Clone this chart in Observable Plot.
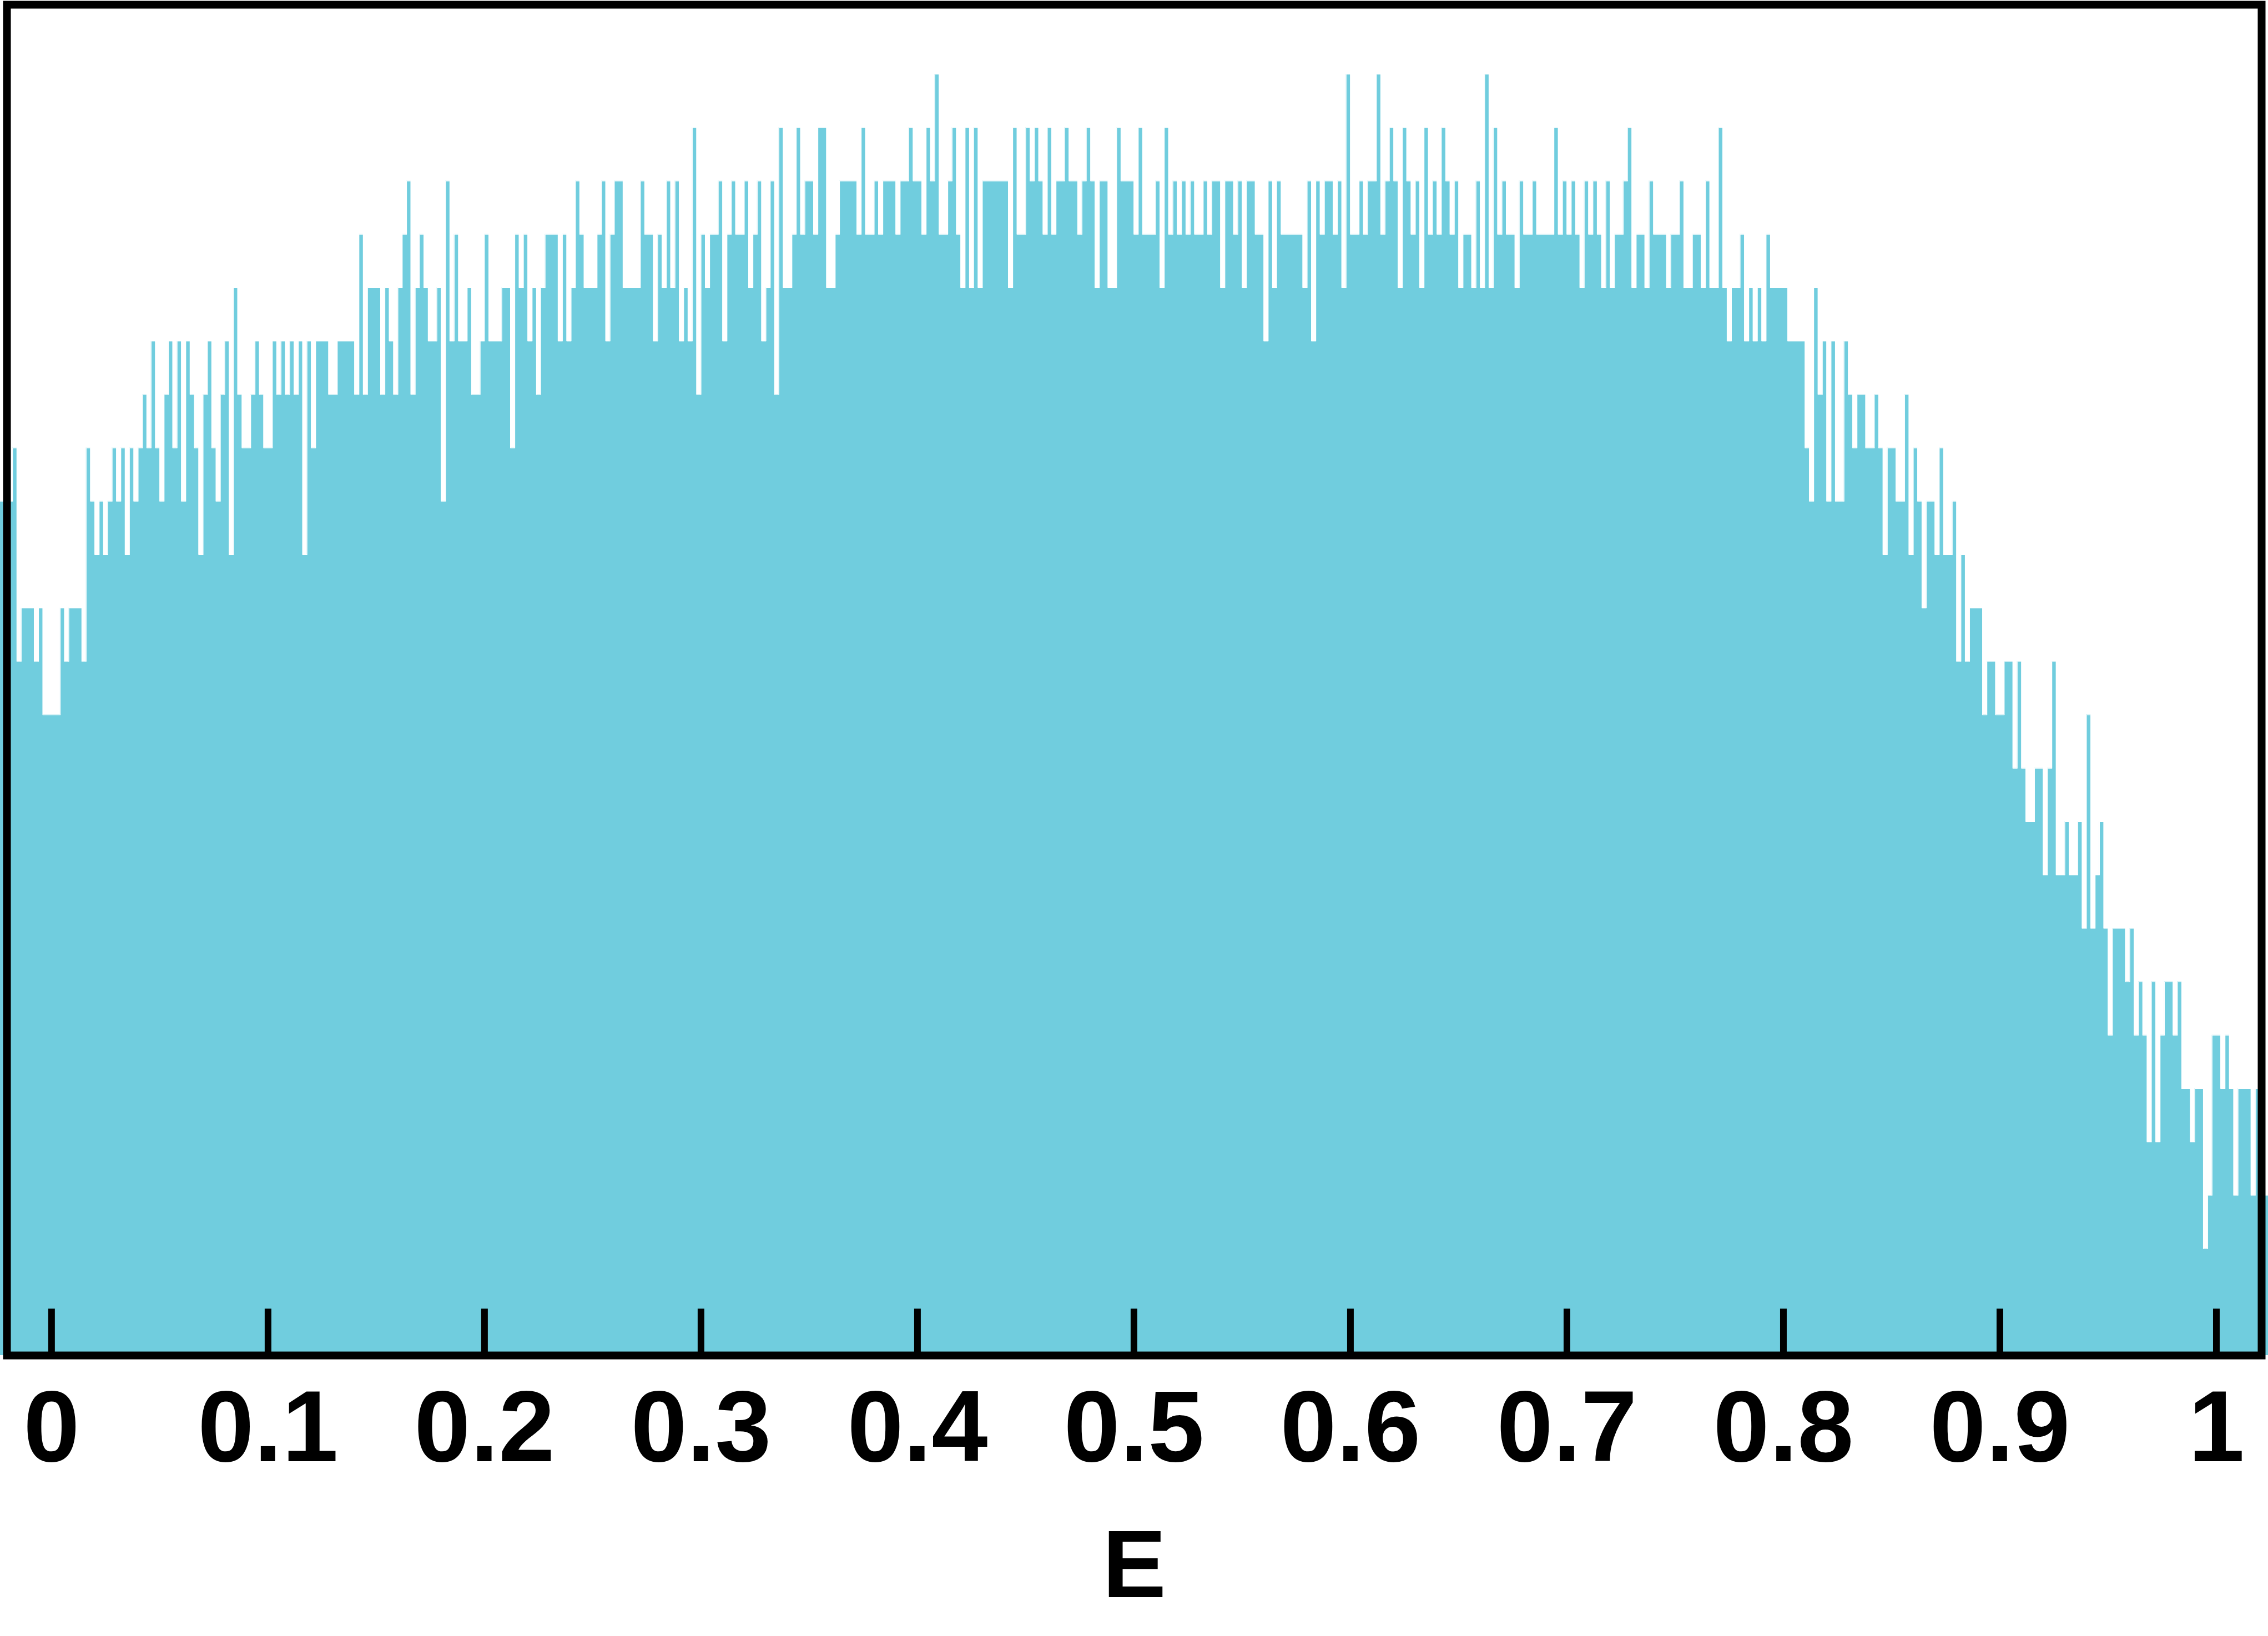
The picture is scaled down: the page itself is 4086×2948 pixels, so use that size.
<!DOCTYPE html>
<html><head><meta charset="utf-8">
<script src="https://cdn.jsdelivr.net/npm/d3@7"></script>
<script src="https://cdn.jsdelivr.net/npm/@observablehq/plot@0.6"></script>
<style>html,body{margin:0;padding:0;background:#fff} svg{display:block}</style>
</head><body><div id="chart"></div>
<script>
// Histogram bins: first bin left edge and bin width (data units of E)
const binStart = -0.024;
const binWidth = 0.002;
// Counts per bin, left to right
const counts = [
16,16,16,
17,13,14,14,14,13,14,12,12,12,12,14,13,14,14,14,13,17,16,15,16,15,16,17,16,17,15,17,16,17,18,17,19,17,16,18,19,17,19,16,19,18,17,
15,18,19,17,16,18,19,15,20,18,17,17,18,19,18,17,17,19,18,19,18,19,18,19,15,19,17,19,19,19,18,18,19,19,19,19,18,21,18,20,20,20,18,20,19,
18,20,21,22,18,20,21,20,19,19,20,16,22,19,21,19,19,20,18,18,19,21,19,19,19,20,20,17,21,20,21,19,20,18,20,21,21,21,19,21,19,20,22,21,20,20,20,
21,22,19,21,22,22,20,20,20,20,22,21,21,19,21,20,22,20,22,19,20,19,23,18,21,20,21,21,22,19,21,22,21,21,22,20,21,22,19,20,22,18,23,
20,20,21,23,21,22,22,21,23,23,20,20,21,22,22,22,22,21,23,21,21,22,21,22,22,22,21,22,22,23,22,22,21,23,22,24,21,21,22,23,21,20,23,20,23,
20,22,22,22,22,22,22,20,23,21,21,23,22,23,22,21,23,21,22,22,23,22,22,21,22,23,22,20,22,22,20,20,23,22,22,22,21,23,21,21,21,22,20,23,21,
22,21,22,21,22,21,21,22,21,22,22,20,22,22,21,22,20,22,22,21,21,19,22,20,22,21,21,21,21,21,20,22,19,22,21,22,22,21,22,20,24,21,21,22,21,
22,22,24,21,22,23,22,20,23,22,21,22,20,23,21,22,21,23,22,21,22,20,21,21,20,22,20,24,20,23,21,22,21,21,20,22,21,21,22,21,21,21,21,23,21,
22,21,22,21,20,22,21,22,21,20,22,20,21,21,22,23,20,21,21,20,22,21,21,21,20,21,21,22,20,20,21,21,20,22,20,20,23,20,19,20,20,21,19,20,
19,20,19,21,20,20,20,20,19,19,19,19,17,16,20,18,19,16,19,16,16,19,18,17,18,18,17,17,18,17,15,17,17,16,16,18,15,17,16,14,16,16,15,17,15,
15,16,13,15,13,14,14,14,12,13,13,12,12,13,13,11,13,11,10,10,11,11,9,11,13,9,9,10,9,9,10,8,12,8,9,10,8,6,
8,8,8,7,8,6,7,6,4,7,4,6,7,7,6,7,5,5,4,5,5,2,3,6,6,5,6,5,3,5,5,5,3,5,
4,3
];
const xTicks = [0, 0.1, 0.2, 0.3, 0.4, 0.5, 0.6, 0.7, 0.8, 0.9, 1];
const xTickLabels = ["0", "0.1", "0.2", "0.3", "0.4", "0.5", "0.6", "0.7", "0.8", "0.9", "1"];
const xLabel = "E";

const bins = counts.map((c, i) => ({x1: binStart + i * binWidth, x2: binStart + (i + 1) * binWidth, count: c}));
const last = bins[bins.length - 1];
const steps = bins.map(b => ({x: b.x1, y: b.count})).concat([{x: last.x2, y: last.count}]);

const chart = Plot.plot({
  width: 4086,
  height: 2948,
  marginLeft: 12,
  marginRight: 12,
  marginTop: 8,
  marginBottom: 506,
  style: {fontFamily: "'Liberation Sans', Arial, Helvetica, sans-serif", background: "#fff"},
  x: {domain: [-0.0206, 1.0209]},
  y: {domain: [0, 25.3], axis: null},
  marks: [
    Plot.areaY(steps, {x: "x", y: "y", curve: "step-after", fill: "#70cdde"}),
    Plot.lineY(steps, {x: "x", y: "y", curve: "step-after", stroke: "#ffffff", strokeWidth: 1.3}),
    Plot.frame({stroke: "#000", strokeWidth: 14}),
    Plot.axisX(xTicks, {tickSize: -84, strokeWidth: 12, stroke: "#000", tickFormat: () => "", label: null}),
    Plot.axisX(xTicks, {tickSize: 0, tickPadding: 61, fontSize: 182, fontWeight: "bold", fill: "#000",
      tickFormat: d => xTickLabels[xTicks.indexOf(d)], label: null}),
    Plot.text([xLabel], {text: d => d, frameAnchor: "bottom", dy: 313, lineAnchor: "top",
      fontSize: 172, fontWeight: "bold", fill: "#000"})
  ]
});
document.getElementById("chart").appendChild(chart);
</script>
</body></html>
